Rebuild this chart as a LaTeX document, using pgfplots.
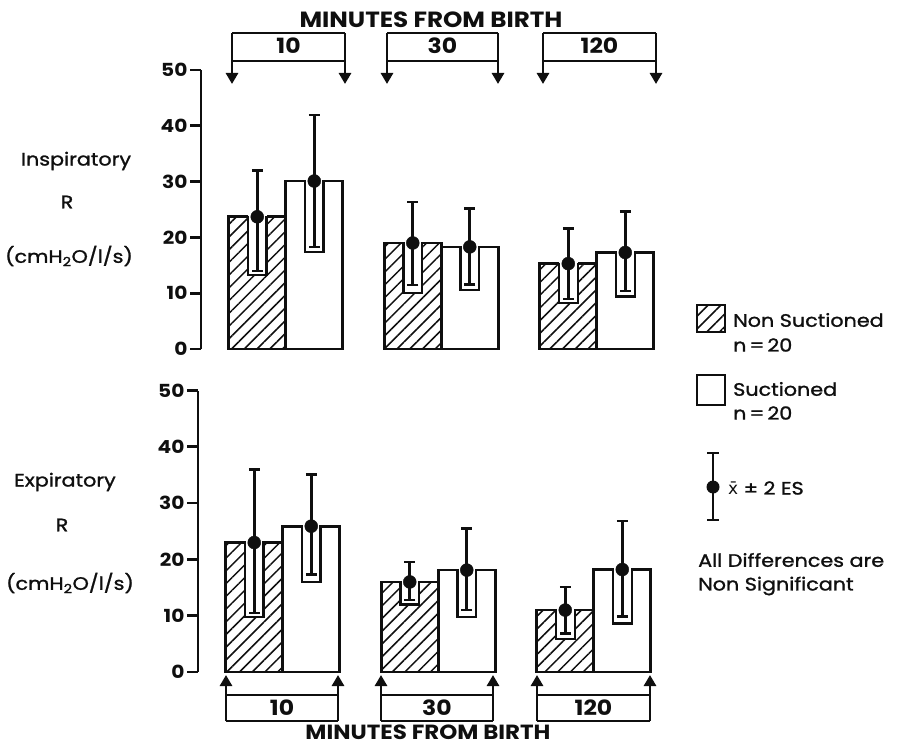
\documentclass[border=0pt]{standalone}
\usepackage{pgfplots}
\pgfplotsset{compat=1.18}
\usepackage{fontspec}
\setmainfont{Poppins}[FakeStretch=1.12]
\newfontfamily\medfont{Poppins}[FakeBold=1.3,FakeStretch=1.15]
\newfontfamily\djfont{DejaVu Sans}
\usetikzlibrary{patterns.meta,arrows.meta}

\definecolor{ink}{RGB}{15,15,15}
\tikzset{
  hatch/.style={pattern={Lines[angle=45,distance=9pt,line width=1.5pt]},pattern color=ink},
  stroke/.style={line width=2.7pt,draw=ink},
}

% white notch cut into a bar round the lower whisker: x, bottom, bar top
\newcommand{\notch}[3]{%
  \pgfmathsetmacro\xl{#1-0.06}%
  \pgfmathsetmacro\xr{#1+0.06}%
  \pgfmathsetmacro\yt{#3+0.3}%
  \pgfmathsetmacro\yw{#3+0.2}%
  \edef\tmp{%
    \noexpand\addplot[fill=white,draw=none,forget plot] coordinates {(\xl,#2) (\xr,#2) (\xr,\yt) (\xl,\yt)};
    \noexpand\addplot[ink,line width=2.2pt,forget plot] coordinates {(\xl,\yw) (\xl,#2) (\xr,#2) (\xr,\yw)};
  }\tmp}

\pgfplotsset{
  panel/.style={
    scale only axis, width=460pt, anchor=south west,
    xmin=0.455, xmax=3.413, ymin=0, ymax=50,
    axis x line=none, axis y line*=left,
    ytick={0,10,...,50}, tick align=outside, major tick length=11pt,
    y axis line style={line width=2.7pt,ink},
    every tick/.style={line width=2.7pt,ink},
    yticklabel style={font=\bfseries\fontsize{18}{18}\selectfont,text=ink,xshift=1pt},
    /pgf/number format/assume math mode=true,
    clip=false,
  },
  barH/.style={ybar,bar width=0.3667,bar shift=0pt,stroke,hatch,forget plot},
  barW/.style={ybar,bar width=0.3667,bar shift=0pt,stroke,fill=white,forget plot},
  ebar/.style={only marks,mark=*,mark size=6.5pt,mark options={fill=ink,draw=ink},forget plot,
    error bars/.cd,y dir=both,y explicit,
    error bar style={line width=2.7pt,ink},
    error mark options={rotate=90,line width=2.5pt,mark size=5.5pt,ink}},
}

\newcommand{\boxlabel}{\bfseries\fontsize{21}{21}\selectfont}

\begin{document}
\begin{tikzpicture}[text=ink]
\useasboundingbox (0,0) rectangle (923pt,-746pt);

% ---------------- inspiratory ----------------
\begin{axis}[panel, at={(201pt,-349pt)}, height=279pt]
\addplot[barH] coordinates {(0.8167,23.7) (1.8167,19.0) (2.8167,15.3)};
\addplot[barW] coordinates {(1.1833,30.1) (2.1833,18.3) (3.1833,17.3)};
\notch{0.8167}{13.2}{23.7}
\notch{1.8167}{10.1}{19.0}
\notch{2.8167}{8.2}{15.3}
\notch{1.1833}{17.4}{30.1}
\notch{2.1833}{10.6}{18.3}
\notch{3.1833}{9.4}{17.3}
\addplot[ebar] coordinates {
  (0.8167,23.7) += (0,8.3) -= (0,9.7)
  (1.8167,19.0) += (0,7.3) -= (0,7.5)
  (2.8167,15.3) += (0,6.3) -= (0,6.3)
  (1.1833,30.1) += (0,11.8) -= (0,11.8)
  (2.1833,18.3) += (0,6.9) -= (0,6.7)
  (3.1833,17.3) += (0,7.3) -= (0,6.9)
};
\end{axis}

% ---------------- expiratory ----------------
\begin{axis}[panel, at={(198pt,-672pt)}, height=281.5pt]
\addplot[barH] coordinates {(0.8167,23.0) (1.8167,16.0) (2.8167,11.0)};
\addplot[barW] coordinates {(1.1833,25.9) (2.1833,18.1) (3.1833,18.2)};
\notch{0.8167}{9.7}{23.0}
\notch{1.8167}{12.0}{16.0}
\notch{2.8167}{5.9}{11.0}
\notch{1.1833}{16.0}{25.9}
\notch{2.1833}{9.8}{18.1}
\notch{3.1833}{8.6}{18.2}
\addplot[ebar] coordinates {
  (0.8167,23.0) += (0,13.0) -= (0,12.5)
  (1.8167,16.0) += (0,3.5) -= (0,3.2)
  (2.8167,11.0) += (0,4.1) -= (0,4.2)
  (1.1833,25.9) += (0,9.2) -= (0,8.6)
  (2.1833,18.1) += (0,7.4) -= (0,7.1)
  (3.1833,18.2) += (0,8.6) -= (0,8.3)
};
\end{axis}

% ---------------- time brackets ----------------
\node[font=\bfseries\fontsize{22}{22}\selectfont,anchor=base,inner sep=0pt] at (431pt,-28pt) {MINUTES FROM BIRTH};
\foreach \xl/\xr/\lab in {232/345/10, 387/498/30, 543/656/120}{
  \draw[line width=2.7pt,ink] (\xl pt,-33pt) -- (\xr pt,-33pt);
  \draw[line width=2.7pt,ink] (\xl pt,-61pt) -- (\xr pt,-61pt);
  \draw[line width=2.7pt,ink,-{Triangle[width=12pt,length=11pt]}] (\xl pt,-33pt) -- (\xl pt,-84pt);
  \draw[line width=2.7pt,ink,-{Triangle[width=12pt,length=11pt]}] (\xr pt,-33pt) -- (\xr pt,-84pt);
  \node[font=\boxlabel,anchor=base] at ({(\xl+\xr)/2*1pt},-54pt) {\lab};
}
\foreach \xl/\xr/\lab in {226/338/10, 381/493/30, 537/650/120}{
  \draw[line width=2.7pt,ink] (\xl pt,-695pt) -- (\xr pt,-695pt);
  \draw[line width=2.7pt,ink] (\xl pt,-721pt) -- (\xr pt,-721pt);
  \draw[line width=2.7pt,ink,-{Triangle[width=12pt,length=11pt]}] (\xl pt,-721pt) -- (\xl pt,-675pt);
  \draw[line width=2.7pt,ink,-{Triangle[width=12pt,length=11pt]}] (\xr pt,-721pt) -- (\xr pt,-675pt);
  \node[font=\boxlabel,anchor=base] at ({(\xl+\xr)/2*1pt},-715pt) {\lab};
}
\node[font=\bfseries\fontsize{20.5}{20.5}\selectfont,anchor=base,inner sep=0pt] at (428pt,-739pt) {MINUTES FROM BIRTH};

% ---------------- side labels ----------------
\begin{scope}[every node/.style={font=\medfont\fontsize{18}{18}\selectfont}]
\node at (76pt,-161pt) {Inspiratory};
\node at (67pt,-202pt) {R};
\node at (69pt,-256pt) {(cmH\textsubscript{2}O/l/s)};
\node at (65pt,-482pt) {Expiratory};
\node at (62pt,-525pt) {R};
\node at (70pt,-583pt) {(cmH\textsubscript{2}O/l/s)};
\end{scope}

% ---------------- legend ----------------
\draw[line width=2.7pt,ink,hatch] (697pt,-305pt) rectangle (725pt,-332pt);
\draw[line width=2.7pt,ink,fill=white] (697pt,-375pt) rectangle (725pt,-405pt);
\begin{scope}[every node/.style={font=\medfont\fontsize{18}{18}\selectfont,anchor=west,inner sep=0pt}]
\node at (733pt,-320pt) {Non Suctioned};
\node at (733pt,-345pt) {n\,=\,20};
\node at (733pt,-389pt) {Suctioned};
\node at (733pt,-413pt) {n\,=\,20};
\node at (728pt,-488pt) {{\djfont\fontsize{17}{17}\selectfont x̄} ± 2 ES};
\node at (698pt,-560pt) {All Differences are};
\node at (698pt,-586pt) {Non Significant};
\end{scope}
\draw[line width=2.7pt,ink] (713pt,-453pt) -- (713pt,-520pt);
\draw[line width=2.5pt,ink] (707pt,-453pt) -- (719pt,-453pt);
\draw[line width=2.5pt,ink] (707pt,-520pt) -- (719pt,-520pt);
\fill[ink] (713pt,-487pt) circle (6.5pt);
\end{tikzpicture}
\end{document}
